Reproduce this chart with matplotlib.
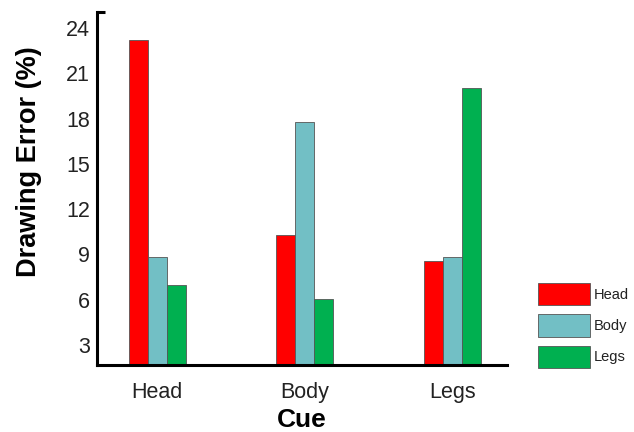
import matplotlib
matplotlib.use("Agg")
import matplotlib.pyplot as plt
import numpy as np

plt.rcParams['font.family'] = ['Liberation Sans', 'DejaVu Sans']

categories = ["Head", "Body", "Legs"]
series_names = ["Head", "Body", "Legs"]
head_vals = [23.2, 10.3, 8.55]
body_vals = [8.85, 17.8, 8.85]
legs_vals = [6.95, 6.05, 20.0]
yticks = [3, 6, 9, 12, 15, 18, 21, 24]
colors = ["#FF0000", "#72BFC5", "#00B050"]

fig = plt.figure(figsize=(6.34, 4.32), dpi=100)
W, H = 634, 432
ax = fig.add_axes([97 / W, (H - 365) / H, (507 - 97) / W, (365 - 12) / H])

x = np.arange(len(categories))
width = 0.129
for i, (vals, name) in enumerate(zip([head_vals, body_vals, legs_vals], series_names)):
    ax.bar(x + (i - 1) * width, vals, width, color=colors[i], edgecolor="#555555",
           linewidth=0.6, label=name)

ax.set_xlim(-0.407, 2.37)
ax.set_ylim(1.67, 25.07)
ax.set_yticks(yticks)
ax.set_xticks(x)
ax.set_xticklabels(categories)
ax.tick_params(axis='both', length=0, labelsize=15.5, colors="#222222")
ax.tick_params(axis='y', pad=5)
ax.tick_params(axis='x', pad=12)

for s in ["top", "right"]:
    ax.spines[s].set_visible(False)
for s in ["left", "bottom"]:
    ax.spines[s].set_linewidth(2.2)
    ax.spines[s].set_color("black")
ax.plot([0, 0.02], [1, 1], transform=ax.transAxes, color="black", lw=2.2,
        clip_on=False, solid_capstyle="butt")

ax.set_ylabel("Drawing Error (%)", fontsize=19.5, fontweight="bold")
ax.yaxis.set_label_coords(-0.134, 0.575)
ax.set_xlabel("Cue", fontsize=19, fontweight="bold", labelpad=4)

fs = 10.5
fpx = fs * 100 / 72
handles, labels = ax.get_legend_handles_labels()
leg = fig.legend(handles, labels, loc="upper left",
                 bbox_to_anchor=(538 / W, (H - 283) / H),
                 frameon=False, fontsize=fs, handlelength=52 / fpx,
                 handleheight=(23 / fpx) * 1.25, labelspacing=0.62, handletextpad=0.25,
                 borderpad=0, borderaxespad=0)
for t in leg.get_texts():
    t.set_color("#222222")

fig.savefig("out.png", dpi=100)
